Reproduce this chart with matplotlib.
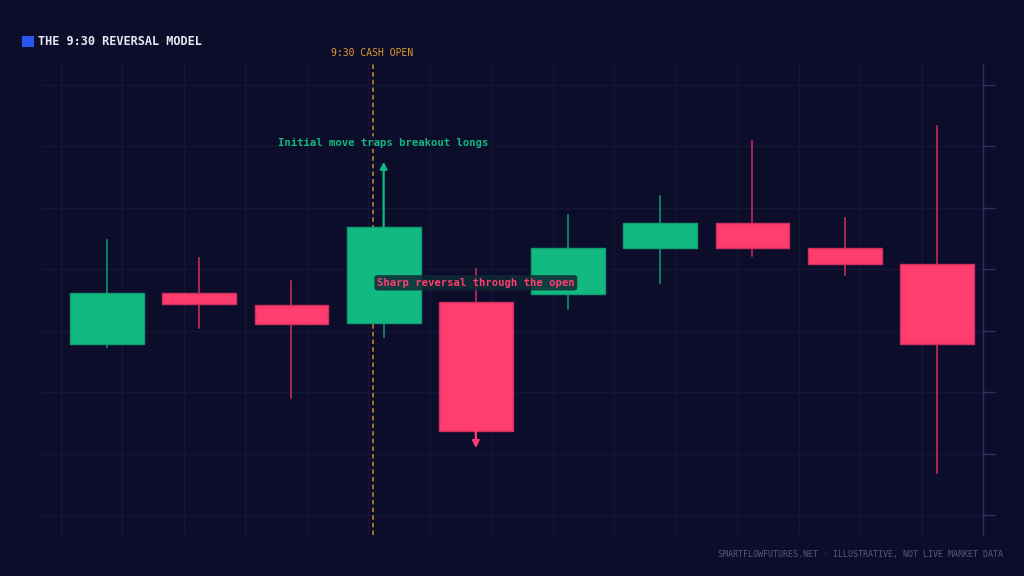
import matplotlib
matplotlib.use("Agg")
import matplotlib.pyplot as plt
from matplotlib.patches import Rectangle
import numpy as np

# ---- data ----
opens  = [5003.9, 5008.05, 5007.1, 5005.6, 5007.35, 5007.95, 5011.75, 5013.75, 5011.75, 5010.4]
closes = [5008.05, 5007.15, 5005.55, 5013.45, 4996.85, 5011.7, 5013.75, 5011.75, 5010.4, 5003.9]
highs  = [5012.4, 5010.9, 5009.05, 5018.75, 5010.0, 5014.4, 5015.95, 5020.45, 5014.2, 5021.7]
lows   = [5003.7, 5005.2, 4999.5, 5004.45, 4995.45, 5006.75, 5008.85, 5011.1, 5009.5, 4993.4]
y_grid = [4990, 4995, 5000, 5005, 5010, 5015, 5020, 5025]
open_marker = 2.88
title = "THE 9:30 REVERSAL MODEL"
open_label = "9:30 CASH OPEN"
note_up = "Initial move traps breakout longs"
note_up_y = 5020.3
note_down = "Sharp reversal through the open"
note_down_y = 5008.9
footer = "SMARTFLOWFUTURES.NET \u00b7 ILLUSTRATIVE, NOT LIVE MARKET DATA"

BG = "#0b0d2b"
GRID = "#131634"
GREEN = "#12b981"
RED = "#ff3d6e"
AMBER = "#e09a2a"
MONO = "DejaVu Sans Mono"

fig = plt.figure(figsize=(10.24, 5.76), dpi=100, facecolor=BG)
ax = fig.add_axes([42/1024, 41/576, (983-42)/1024, (535-64)/576])
ax.set_facecolor(BG)

ax.set_xlim(-0.705, 9.5)
ax.set_ylim(4988.37, 5026.71)

# grid
for g in y_grid:
    ax.axhline(g, color=GRID, lw=1, zorder=0)
for gx in np.arange(-0.5, 9.5, 2/3):
    ax.axvline(gx, color=GRID, lw=1, zorder=0)

# candles
w = 0.8
for i, (o, c, h, l) in enumerate(zip(opens, closes, highs, lows)):
    col = GREEN if c >= o else RED
    wick_col = "#0f9e72" if c >= o else "#d0305d"
    if i == 3:
        ax.plot([i, i], [l, o], color=wick_col, lw=1.1, zorder=2)
    elif i == 4:
        ax.plot([i, i], [o, h], color=wick_col, lw=1.1, zorder=2)
    else:
        ax.plot([i, i], [l, h], color=wick_col, lw=1.1, zorder=2)
    ax.add_patch(Rectangle((i - w/2, min(o, c)), w, abs(c - o),
                           facecolor=col, edgecolor=wick_col, lw=1, zorder=3))

# arrows for candle 4 and 5 extremes
ax.annotate("", xy=(3, highs[3]), xytext=(3, max(opens[3], closes[3])),
            arrowprops=dict(arrowstyle="-|>", color=GREEN, lw=1.6,
                            mutation_scale=10, shrinkA=0, shrinkB=0), zorder=4)
ax.annotate("", xy=(4, lows[4]), xytext=(4, min(opens[4], closes[4])),
            arrowprops=dict(arrowstyle="-|>", color=RED, lw=1.6,
                            mutation_scale=10, shrinkA=0, shrinkB=0), zorder=4)

# 9:30 open marker
ax.axvline(open_marker, color=AMBER, lw=1.1, ls=(0, (3, 2)), zorder=1, alpha=0.9)
ax.text(open_marker, 1.012, open_label, transform=ax.get_xaxis_transform(),
        ha="center", va="bottom", color=AMBER, fontsize=7, family=MONO)

# notes
ax.text(3, note_up_y, note_up, ha="center", va="center", color=GREEN,
        fontsize=7.7, family=MONO, fontweight="bold", zorder=5,
        bbox=dict(boxstyle="square,pad=0.15", facecolor=BG, edgecolor="none", alpha=0.7))
ax.text(4, note_down_y, note_down, ha="center", va="center", color=RED,
        fontsize=7.7, family=MONO, fontweight="bold", zorder=6,
        bbox=dict(boxstyle="round,pad=0.25,rounding_size=0.3", facecolor="#0f2a36",
                  edgecolor="none", alpha=0.85))

# axes styling
for s in ["top", "left", "bottom"]:
    ax.spines[s].set_visible(False)
ax.spines["right"].set_color("#2b2f66")
ax.spines["right"].set_linewidth(1)
ax.set_xticks([])
ax.yaxis.tick_right()
ax.set_yticks(y_grid)
ax.tick_params(axis="y", length=8.5, width=1, color="#2b2f66", labelright=False, labelleft=False)

# title
fig.patches.append(Rectangle((22/1024, 1 - 47/576), 12/1024, 11/576,
                             transform=fig.transFigure, facecolor="#2c56f0", edgecolor="none"))
fig.text(38/1024, 1 - 41.5/576, title, ha="left", va="center", color="#e6e8f2",
         fontsize=8.6, family=MONO, fontweight="bold")

fig.text(1003/1024, 1 - 555/576, footer, ha="right", va="center", color="#555a80",
         fontsize=6.0, family=MONO)

fig.savefig("out.png", dpi=100, facecolor=BG)
